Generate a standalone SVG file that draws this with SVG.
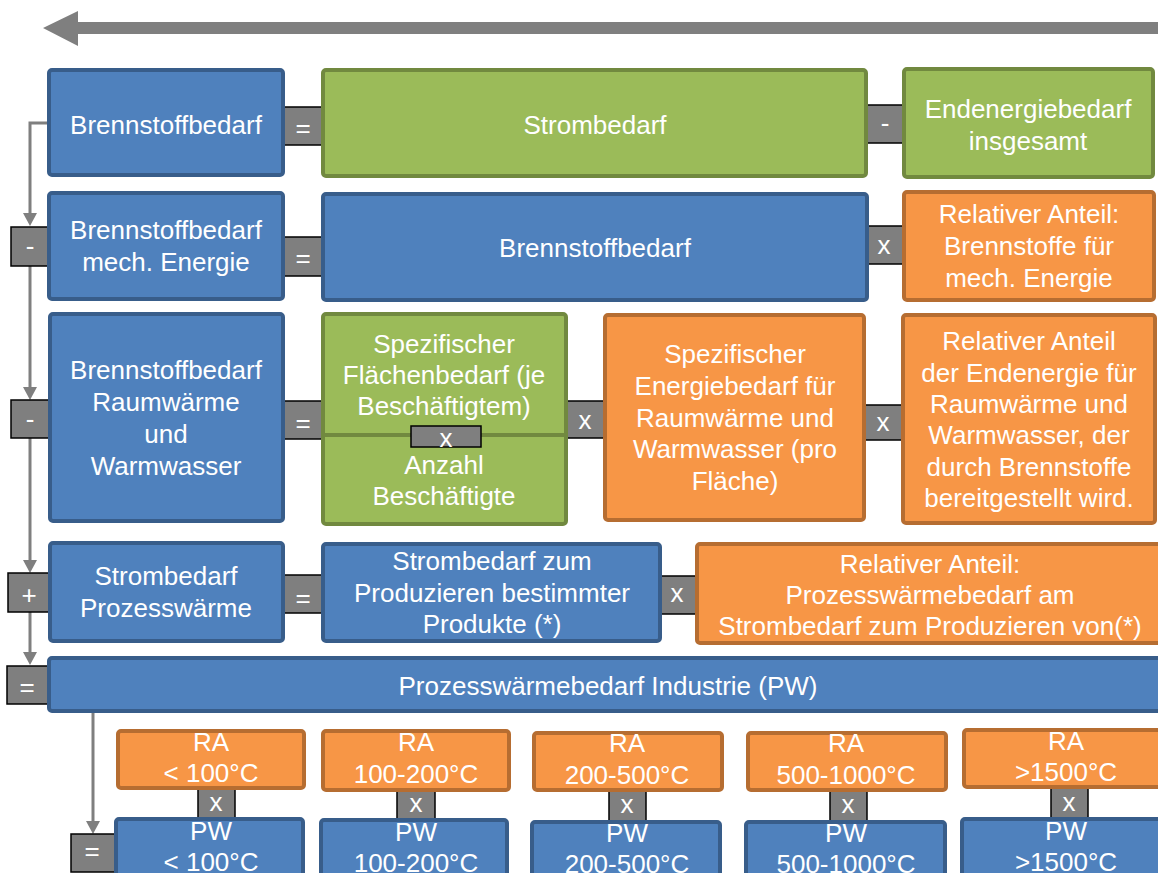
<svg xmlns="http://www.w3.org/2000/svg" width="1158" height="873" viewBox="0 0 1158 873">
<defs>
<style>
.blue{fill:#4f81bd;stroke:#385d8a;stroke-width:4}
.green{fill:#9bbb59;stroke:#71893f;stroke-width:4}
.orange{fill:#f79646;stroke:#b66d31;stroke-width:4}
.op{fill:#7f7f7f;stroke:#000;stroke-width:1.5}
.t{font-family:"Liberation Sans",Arial,sans-serif;font-size:26px;fill:#fff;text-anchor:middle}
.ln{fill:none;stroke:#7f7f7f;stroke-width:3}
</style>
<marker id="ah" viewBox="0 0 13 14" refX="5" refY="7" markerWidth="13" markerHeight="14" markerUnits="userSpaceOnUse" orient="auto">
<path d="M0,0 L13,7 L0,14 Z" fill="#7f7f7f"/>
</marker>
</defs>
<rect width="1158" height="873" fill="#fff"/>

<g id="connectors">
<path d="M1158,22 H78 V11 L43,28 L78,46 V34 H1158 Z" fill="#7f7f7f"/>
<path class="ln" d="M50,123 H30 V218" marker-end="url(#ah)"/>
<path class="ln" d="M30,266 V392" marker-end="url(#ah)"/>
<path class="ln" d="M30,438 V565" marker-end="url(#ah)"/>
<path class="ln" d="M30,612 V657" marker-end="url(#ah)"/>
<path class="ln" d="M93,713 V826" marker-end="url(#ah)"/>
</g>

<g id="operators">
<g id="op1"><rect class="op" x="280" y="107" width="46" height="38"/><text class="t" x="303" y="137">=</text></g>
<g id="op2"><rect class="op" x="864" y="105" width="42" height="38"/><text class="t" x="885" y="132">-</text></g>
<g id="op3"><rect class="op" x="11" y="227" width="40" height="39"/><text class="t" x="30" y="255">-</text></g>
<g id="op4"><rect class="op" x="280" y="237" width="46" height="39"/><text class="t" x="303" y="267">=</text></g>
<g id="op5"><rect class="op" x="864" y="226" width="42" height="38"/><text class="t" x="884" y="254">x</text></g>
<g id="op6"><rect class="op" x="11" y="400" width="41" height="38"/><text class="t" x="30" y="428">-</text></g>
<g id="op7"><rect class="op" x="280" y="401" width="46" height="38"/><text class="t" x="303" y="432">=</text></g>
<g id="op9"><rect class="op" x="563" y="401" width="45" height="37"/><text class="t" x="585" y="429">x</text></g>
<g id="op10"><rect class="op" x="861" y="405" width="45" height="35"/><text class="t" x="883" y="431">x</text></g>
<g id="op11"><rect class="op" x="8" y="573" width="44" height="39"/><text class="t" x="29" y="604">+</text></g>
<g id="op12"><rect class="op" x="280" y="575" width="46" height="38"/><text class="t" x="303" y="607">=</text></g>
<g id="op13"><rect class="op" x="657" y="576" width="43" height="38"/><text class="t" x="677" y="602">x</text></g>
<g id="op14"><rect class="op" x="7" y="666" width="45" height="38"/><text class="t" x="27" y="696">=</text></g>
<g id="op15"><rect class="op" x="71" y="834" width="48" height="38"/><text class="t" x="92" y="860">=</text></g>
<g id="op16"><rect class="op" x="198" y="785" width="37" height="38"/><text class="t" x="216" y="811">x</text></g>
<g id="op17"><rect class="op" x="397" y="787" width="38" height="38"/><text class="t" x="416" y="812">x</text></g>
<g id="op18"><rect class="op" x="609" y="787" width="37" height="38"/><text class="t" x="627" y="813">x</text></g>
<g id="op19"><rect class="op" x="830" y="787" width="37" height="38"/><text class="t" x="848" y="813">x</text></g>
<g id="op20"><rect class="op" x="1051" y="784" width="37" height="38"/><text class="t" x="1069" y="811">x</text></g>
</g>

<g id="n1"><rect class="blue" x="49" y="70" width="234" height="105" rx="3"/><text class="t" x="166" y="134">Brennstoffbedarf</text></g>
<g id="n2"><rect class="green" x="323" y="70" width="543" height="106" rx="3"/><text class="t" x="595" y="134">Strombedarf</text></g>
<g id="n3"><rect class="green" x="904" y="69" width="249" height="108" rx="3"/><text class="t" x="1028" y="118">Endenergiebedarf</text><text class="t" x="1028" y="150">insgesamt</text></g>

<g id="n4"><rect class="blue" x="49" y="193" width="234" height="106" rx="3"/><text class="t" x="166" y="239">Brennstoffbedarf</text><text class="t" x="166" y="271">mech. Energie</text></g>
<g id="n5"><rect class="blue" x="323" y="194" width="544" height="106" rx="3"/><text class="t" x="595" y="257">Brennstoffbedarf</text></g>
<g id="n6"><rect class="orange" x="904" y="192" width="250" height="108" rx="3"/><text class="t" x="1029" y="223">Relativer Anteil:</text><text class="t" x="1029" y="255">Brennstoffe für</text><text class="t" x="1029" y="287">mech. Energie</text></g>

<g id="n7"><rect class="blue" x="50" y="314" width="233" height="207" rx="3"/><text class="t" x="166" y="379">Brennstoffbedarf</text><text class="t" x="166" y="411">Raumwärme</text><text class="t" x="166" y="443">und</text><text class="t" x="166" y="475">Warmwasser</text></g>
<g id="n8"><rect class="green" x="323" y="314" width="243" height="210" rx="3"/><line x1="323" y1="435" x2="566" y2="435" stroke="#71893f" stroke-width="4"/><text class="t" x="444" y="353">Spezifischer</text><text class="t" x="444" y="384">Flächenbedarf (je</text><text class="t" x="444" y="415">Beschäftigtem)</text><text class="t" x="444" y="474">Anzahl</text><text class="t" x="444" y="505">Beschäftigte</text></g>
<g id="op8"><rect class="op" x="411" y="426" width="70" height="21"/><text class="t" x="446" y="447">x</text></g>
<g id="n9"><rect class="orange" x="605" y="315" width="259" height="205" rx="3"/><text class="t" x="735" y="363">Spezifischer</text><text class="t" x="735" y="395">Energiebedarf für</text><text class="t" x="735" y="427">Raumwärme und</text><text class="t" x="735" y="458">Warmwasser (pro</text><text class="t" x="735" y="490">Fläche)</text></g>
<g id="n10"><rect class="orange" x="903" y="315" width="252" height="208" rx="3"/><text class="t" x="1029" y="350">Relativer Anteil</text><text class="t" x="1029" y="382">der Endenergie für</text><text class="t" x="1029" y="413">Raumwärme und</text><text class="t" x="1029" y="444">Warmwasser, der</text><text class="t" x="1029" y="476">durch Brennstoffe</text><text class="t" x="1029" y="507">bereitgestellt wird.</text></g>

<g id="n11"><rect class="blue" x="50" y="543" width="233" height="98" rx="3"/><text class="t" x="166" y="585">Strombedarf</text><text class="t" x="166" y="617">Prozesswärme</text></g>
<g id="n12"><rect class="blue" x="323" y="544" width="337" height="97" rx="3"/><text class="t" x="492" y="570">Strombedarf zum</text><text class="t" x="492" y="602">Produzieren bestimmter</text><text class="t" x="492" y="633">Produkte (*)</text></g>
<g id="n13"><rect class="orange" x="697" y="544" width="466" height="99" rx="3"/><text class="t" x="930" y="573">Relativer Anteil:</text><text class="t" x="930" y="604">Prozesswärmebedarf am</text><text class="t" x="930" y="635">Strombedarf zum Produzieren von(*)</text></g>

<g id="n14"><rect class="blue" x="49" y="658" width="1118" height="53" rx="3"/><text class="t" x="608" y="695">Prozesswärmebedarf Industrie (PW)</text></g>

<g id="ra1"><rect class="orange" x="118" y="731" width="186" height="57" rx="3"/><text class="t" x="211" y="751">RA</text><text class="t" x="211" y="782">&lt; 100°C</text></g>
<g id="ra2"><rect class="orange" x="323" y="731" width="186" height="59" rx="3"/><text class="t" x="416" y="751">RA</text><text class="t" x="416" y="783">100-200°C</text></g>
<g id="ra3"><rect class="orange" x="534" y="733" width="188" height="57" rx="3"/><text class="t" x="627" y="752">RA</text><text class="t" x="627" y="784">200-500°C</text></g>
<g id="ra4"><rect class="orange" x="748" y="733" width="198" height="57" rx="3"/><text class="t" x="846" y="752">RA</text><text class="t" x="846" y="784">500-1000°C</text></g>
<g id="ra5"><rect class="orange" x="964" y="730" width="204" height="57" rx="3"/><text class="t" x="1066" y="750">RA</text><text class="t" x="1066" y="781">&gt;1500°C</text></g>

<g id="pw1"><rect class="blue" x="116" y="819" width="187" height="62" rx="3"/><text class="t" x="211" y="840">PW</text><text class="t" x="211" y="871">&lt; 100°C</text></g>
<g id="pw2"><rect class="blue" x="321" y="820" width="186" height="62" rx="3"/><text class="t" x="416" y="841">PW</text><text class="t" x="416" y="872">100-200°C</text></g>
<g id="pw3"><rect class="blue" x="532" y="822" width="188" height="62" rx="3"/><text class="t" x="627" y="842">PW</text><text class="t" x="627" y="873">200-500°C</text></g>
<g id="pw4"><rect class="blue" x="746" y="822" width="199" height="62" rx="3"/><text class="t" x="846" y="842">PW</text><text class="t" x="846" y="873">500-1000°C</text></g>
<g id="pw5"><rect class="blue" x="962" y="819" width="206" height="62" rx="3"/><text class="t" x="1066" y="840">PW</text><text class="t" x="1066" y="871">&gt;1500°C</text></g>
</svg>
